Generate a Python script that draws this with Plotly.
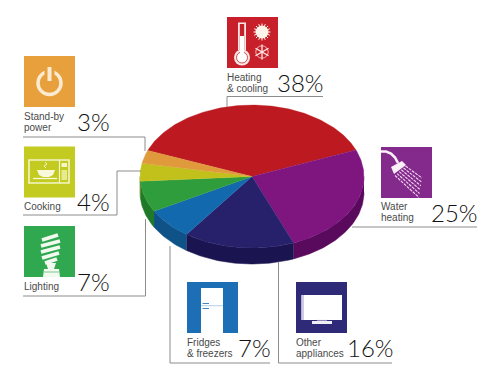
import math
import plotly.graph_objects as go

# ---- data ----
categories = ["Heating<br>& cooling", "Water<br>heating", "Other<br>appliances",
              "Fridges<br>& freezers", "Lighting", "Cooking", "Stand-by<br>power"]
values = [38, 25, 16, 7, 7, 4, 3]
top_colors = ["#BC1A20", "#7F1680", "#27206A", "#1369AE", "#2F9D3C", "#C2C11B", "#E09A3C"]
side_colors = ["#8E1218", "#5A0A5C", "#1A1450", "#0E5288", "#1E7A28", "#93931A", "#B07828"]
icon_colors = ["#C8202A", "#832A8C", "#2E2A78", "#1D6FB5", "#2FA84F", "#C3CB20", "#E8A03C"]

W, H = 494, 381
CX, CY, A, B, DEPTH = 252, 176.5, 112, 71.5, 16
START = 158.6  # degrees, red slice starts here, clockwise


def pt(deg, dy=0):
    r = math.radians(deg)
    return CX + A * math.cos(r), CY - B * math.sin(r) + dy


fig = go.Figure()
total = sum(values)
ang = START
spans = []
for v in values:
    spans.append((ang, ang - v / total * 360))
    ang -= v / total * 360

# side walls: only the lower half of the ellipse is visible
for (a0, a1), c in zip(spans, side_colors):
    for shift in (0, -360):
        s0, s1 = a0 + shift, a1 + shift
        hi = min(s0, 0)
        lo = max(s1, -180)
        if hi <= lo:
            continue
        n = max(2, int(hi - lo) + 1)
        arc = [hi - (hi - lo) * i / (n - 1) for i in range(n)]
        xs = [pt(t)[0] for t in arc] + [pt(t, DEPTH)[0] for t in reversed(arc)]
        ys = [pt(t)[1] for t in arc] + [pt(t, DEPTH)[1] for t in reversed(arc)]
        fig.add_trace(go.Scatter(x=xs, y=ys, fill="toself", fillcolor=c, mode="lines",
                                 line=dict(width=0.5, color=c), hoverinfo="skip", showlegend=False))

# top surface
for (a0, a1), c, name, v in zip(spans, top_colors, categories, values):
    n = max(2, int(a0 - a1) + 1)
    arc = [a0 - (a0 - a1) * i / (n - 1) for i in range(n)]
    xs = [CX] + [pt(t)[0] for t in arc] + [CX]
    ys = [CY] + [pt(t)[1] for t in arc] + [CY]
    fig.add_trace(go.Scatter(x=xs, y=ys, fill="toself", fillcolor=c, mode="lines",
                             line=dict(width=0.3, color=c), name=name.replace("<br>", " "),
                             text=f"{v}%", hoverinfo="name+text", showlegend=False))

shapes = []


def rect(x0, y0, x1, y1, color):
    shapes.append(dict(type="rect", x0=x0, y0=y0, x1=x1, y1=y1, fillcolor=color, line_width=0, layer="above"))


def line(x0, y0, x1, y1, color="#ffffff", w=1.0):
    shapes.append(dict(type="line", x0=x0, y0=y0, x1=x1, y1=y1, line=dict(color=color, width=w), layer="above"))


def circle(cx, cy, r, fill="rgba(0,0,0,0)", stroke="rgba(0,0,0,0)", w=0):
    shapes.append(dict(type="circle", x0=cx - r, y0=cy - r, x1=cx + r, y1=cy + r,
                       fillcolor=fill, line=dict(color=stroke, width=w), layer="above"))


def poly(points, color):
    d = "M" + " L".join(f"{x},{y}" for x, y in points) + " Z"
    shapes.append(dict(type="path", path=d, fillcolor=color, line_width=0, layer="above"))


def polyline(points, color="#ffffff", w=1.0):
    d = "M" + " L".join(f"{x},{y}" for x, y in points)
    shapes.append(dict(type="path", path=d, line=dict(color=color, width=w), layer="above"))


# leader lines
LC = "#8c8c8c"
polyline([(23, 137), (145, 137), (145, 151)], LC)
polyline([(23, 215), (117, 215), (117, 171), (141, 171)], LC)
polyline([(23, 296), (145.5, 296), (145.5, 219)], LC)
polyline([(227, 107), (227, 96.5), (323, 96.5)], LC)
polyline([(352, 227), (477, 227)], LC)
polyline([(170, 246), (170, 363), (270, 363)], LC)
polyline([(278.5, 262), (278.5, 363), (392, 363)], LC)

# icon backgrounds (x, y of top-left)
icon_pos = [(227, 17), (381, 147), (296, 282), (187, 282), (24, 226), (24, 146.5), (24, 56)]
for (x, y), c in zip(icon_pos, icon_colors):
    rect(x, y, x + 51, y + 51, c)

# stand-by icon
OR = icon_colors[6]
circle(49.5, 83, 11.5, stroke="#FBEBD3", w=3.5)
rect(44.5, 66, 54.5, 78, OR)
line(49.5, 67, 49.5, 81, "#FBEBD3", 4)

# cooking icon
shapes.append(dict(type="rect", x0=29, y0=160, x1=69, y1=183, line=dict(color="#F4F6C8", width=1.6),
                   fillcolor="rgba(0,0,0,0)", layer="above"))
line(59.5, 160, 59.5, 183, "#F4F6C8", 1.2)
poly([(37, 170), (55, 170), (53, 175), (49, 177), (43, 177), (39, 175)], "#F8F9DC")
line(33, 178.5, 57, 178.5, "#F8F9DC", 1.3)
polyline([(46, 168), (44, 166), (47, 164), (45, 162)], "#F4F6C8", 1)
rect(61.5, 163, 67, 167, "#F4F6C8")
rect(61.5, 170, 67, 180, "#E6EA90")

# lighting icon
bars = [(42, 240, 58, 235), (41, 246, 60, 241), (41, 252, 60, 247), (42, 258, 59, 253), (45, 263, 57, 259)]
for x0, y0, x1, y1 in bars:
    line(x0, y0, x1, y1, "#F2FAF0", 3.8)
poly([(46, 263), (56, 263), (54, 269), (59, 269), (60, 277), (43, 277), (44, 269), (48, 269)], "#F2FAF0")
line(44, 272, 59, 272, icon_colors[4], 0.6)

# heating icon
WH = "#FBE8E6"
RD = icon_colors[0]
line(242, 22.5, 242, 50, WH, 8)
circle(242, 57.5, 8, fill=WH)
line(242, 24, 242, 50, RD, 4.4)
circle(242, 57.5, 5.5, fill="#FFFFFF", stroke=RD, w=0.8)
line(242, 36, 242, 53, "#FFFFFF", 4)
circle(262, 32, 6.5, fill="#FFF4EA")
for i in range(16):
    t = math.radians(i * 22.5)
    line(262 + 6 * math.cos(t), 32 + 6 * math.sin(t), 262 + 8.5 * math.cos(t), 32 + 8.5 * math.sin(t), "#FFF4EA", 1)
circle(262, 52, 6.2, stroke="#F8D8D8", w=0.8)
for i in range(3):
    t = math.radians(i * 60 + 30)
    line(262 - 7.5 * math.cos(t), 52 - 7.5 * math.sin(t), 262 + 7.5 * math.cos(t), 52 + 7.5 * math.sin(t), "#FBE8E6", 1.3)

# water icon
polyline([(381, 151.5), (386, 151.5), (391, 153.5), (395, 157.5), (398, 163)], "#FBEFF8", 2.6)
poly([(391, 167), (402, 161), (406, 165), (394, 174)], "#FBEFF8")
for i in range(6):
    sx, sy = 395 + i * 2.1, 175.5 - i * 1.9
    ex, ey = sx + 24 - i * 1.5, sy + 22 - i * 2
    shapes.append(dict(type="line", x0=sx, y0=sy, x1=min(ex, 432), y1=min(ey, 198),
                       line=dict(color="#F3D9EE", width=1.1, dash="3px,1px"), layer="above"))

# fridge icon
rect(201, 288, 223, 333, "#FFFFFF")
line(201, 305.7, 223, 305.7, "#9CC3E3", 0.8)
line(202.5, 303.5, 209, 303.5, "#3F86C2", 1)
line(202.5, 308.5, 209, 308.5, "#3F86C2", 1)

# tv icon
rect(301.5, 295, 342, 320, "#FFFFFF")
rect(301.5, 295, 304, 320, "#CFCBE6")
rect(312, 321, 332, 324, "#F0EFF8")
line(317, 320, 327, 320, "#F0EFF8", 1)

LABEL_FONT = "Liberation Sans"
label_pos = [(226, 82.5), (379.5, 212), (295, 347.5), (186, 347.5), (23, 286), (23, 206), (23, 121.5)]
pct_pos = [(276, 82), (430, 212), (346, 347), (237, 347), (76, 281), (76, 201), (76, 121)]
LEAD = 11
ann = []
for name, v, (lx, ly), (px, py) in zip(categories, values, label_pos, pct_pos):
    parts = name.split("<br>")
    for i, part in enumerate(parts):
        ann.append(dict(x=lx, y=ly + (i - (len(parts) - 1) / 2) * LEAD, text=part, showarrow=False,
                        xanchor="left", yanchor="middle", align="left", borderpad=0,
                        font=dict(family=LABEL_FONT, size=10, color="#4a4a4a")))
    ann.append(dict(x=px, y=py, text=f"{v}%", showarrow=False, xanchor="left", yanchor="middle",
                    borderpad=0, font=dict(family="Lato", size=24, color="#111111", weight=300)))

fig.update_layout(
    width=W, height=H, margin=dict(l=0, r=0, t=0, b=0),
    paper_bgcolor="white", plot_bgcolor="white",
    xaxis=dict(range=[0, W], visible=False, fixedrange=True),
    yaxis=dict(range=[H, 0], visible=False, fixedrange=True),
    shapes=shapes, annotations=ann, showlegend=False,
)
fig.write_html("out.html", config={"displayModeBar": False},
               post_script="document.body.style.margin='0';")
